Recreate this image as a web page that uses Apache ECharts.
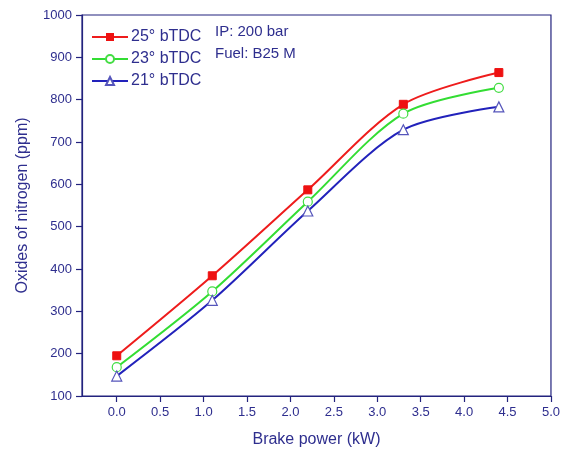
<!DOCTYPE html>
<html><head><meta charset="utf-8">
<script src="https://cdn.jsdelivr.net/npm/echarts@6/dist/echarts.min.js"></script>
<style>html,body{margin:0;padding:0;background:#fff}#c{width:563px;height:454px}</style>
</head><body><div id="c"></div>
<script>
const brakePower = [0, 1.1, 2.2, 3.3, 4.4];
const nox25 = [195, 384, 587, 789, 864];
const nox23 = [168, 347, 559, 767, 828];
const nox21 = [147, 326, 537, 729, 783];
const xTicks = [0, 0.5, 1, 1.5, 2, 2.5, 3, 3.5, 4, 4.5, 5];
const seriesNames = ['25° bTDC', '23° bTDC', '21° bTDC'];

const navy = '#23237e';
const txt = '#2e2e8e';
const font = 'Liberation Sans, Arial, sans-serif';
function pairs(ys){ return brakePower.map((x,i)=>[x, ys[i]]); }

const chart = echarts.init(document.getElementById('c'));
chart.setOption({
  animation: false,
  grid: {left: 82, right: 11, top: 15, bottom: 58, show: true, borderColor: navy, borderWidth: 1.2},
  legend: {
    orient: 'vertical', left: 86, top: 24, itemWidth: 36, itemHeight: 10, itemGap: 6,
    textStyle: {fontFamily: font, fontSize: 16, color: txt, padding: [0,0,0,-2]},
    data: seriesNames
  },
  graphic: [
    {type: 'text', left: 215, top: 24, style: {text: 'IP: 200 bar', font: '15px ' + font, fill: txt}},
    {type: 'text', left: 215, top: 46, style: {text: 'Fuel: B25 M', font: '15px ' + font, fill: txt}}
  ],
  xAxis: {
    type: 'value', min: -0.4, max: 5,
    name: 'Brake power (kW)', nameLocation: 'middle', nameGap: 36,
    nameTextStyle: {fontFamily: font, fontSize: 16, color: txt},
    axisLine: {onZero: false, lineStyle: {color: navy, width: 1.2}},
    axisTick: {show: true, length: 6, lineStyle: {color: navy, width: 1.2}, customValues: xTicks},
    axisLabel: {customValues: xTicks, formatter: v => v.toFixed(1), fontFamily: font, fontSize: 13, color: txt, margin: 10},
    splitLine: {show: false}
  },
  yAxis: {
    type: 'value', min: 100, max: 1000, interval: 100,
    name: 'Oxides of nitrogen (ppm)', nameLocation: 'middle', nameGap: 51,
    nameTextStyle: {fontFamily: font, fontSize: 16, color: txt},
    axisLine: {show: true, onZero: false, lineStyle: {color: navy, width: 1.2}},
    axisTick: {show: true, inside: false, length: 6, lineStyle: {color: navy, width: 1.2}},
    axisLabel: {formatter: v => String(v), fontFamily: font, fontSize: 13, color: txt, margin: 10},
    splitLine: {show: false}
  },
  series: [
    {name: seriesNames[0], type: 'line', smooth: 0.3, data: pairs(nox25), symbol: 'rect', symbolSize: 8,
     lineStyle: {color: '#ee1c1c', width: 2}, itemStyle: {color: '#ee1111', borderColor: '#ee1111'}},
    {name: seriesNames[1], type: 'line', smooth: 0.3, data: pairs(nox23), symbol: 'circle', symbolSize: 9,
     lineStyle: {color: '#33dd33', width: 2}, itemStyle: {color: '#ffffff', borderColor: '#44dd44', borderWidth: 1.2}},
    {name: seriesNames[2], type: 'line', smooth: 0.3, data: pairs(nox21), symbol: 'triangle', symbolSize: 10,
     lineStyle: {color: '#2222bb', width: 2}, itemStyle: {color: '#ffffff', borderColor: '#5555bb', borderWidth: 1.2}}
  ]
});
</script></body></html>
